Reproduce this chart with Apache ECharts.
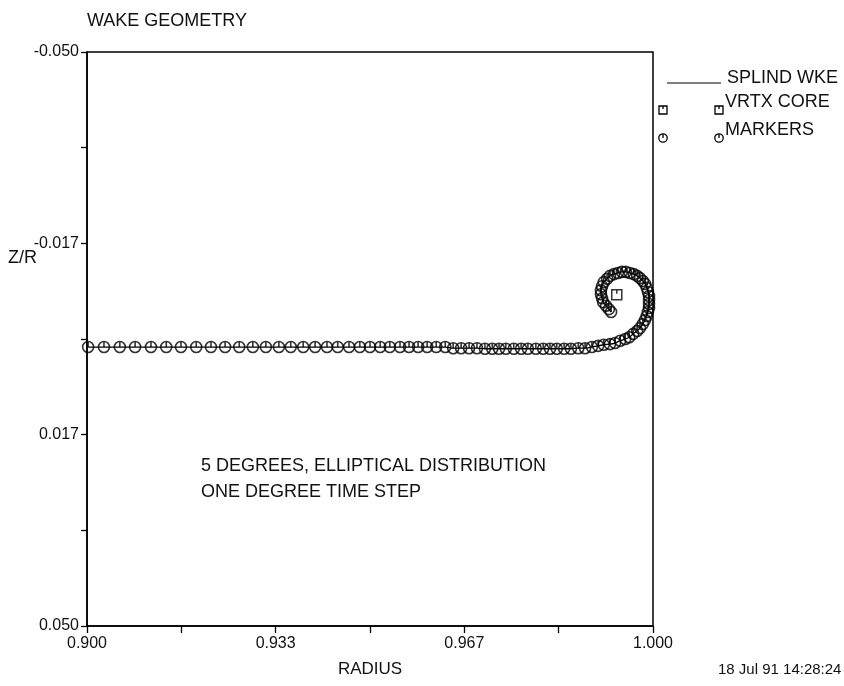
<!DOCTYPE html>
<html>
<head>
<meta charset="utf-8">
<script src="https://cdn.jsdelivr.net/npm/echarts@6/dist/echarts.min.js"></script>
<style>
  html, body { margin: 0; padding: 0; background: #fff; }
  #chart { width: 844px; height: 686px; }
</style>
</head>
<body>
<div id="chart"></div>
<script>
// Wake sheet marker positions: radius (r/R) and vertical offset (Z/R)
const wakeRadius = [
  0.9002, 0.9030, 0.9058, 0.9085, 0.9113, 0.9140, 0.9166, 0.9193, 0.9219, 0.9244,
  0.9269, 0.9293, 0.9316, 0.9339, 0.9360, 0.9382, 0.9403, 0.9424, 0.9443, 0.9463,
  0.9482, 0.9500, 0.9518, 0.9535, 0.9553, 0.9569, 0.9585, 0.9601, 0.9617, 0.9633,
  0.9647, 0.9661, 0.9675, 0.9689, 0.9703, 0.9716, 0.9728, 0.9740, 0.9754, 0.9767,
  0.9779, 0.9793, 0.9806, 0.9818, 0.9830, 0.9843, 0.9855, 0.9868, 0.9880, 0.9892,
  0.9903, 0.9913, 0.9924, 0.9933, 0.9942, 0.9951, 0.9958, 0.9965, 0.9972, 0.9977,
  0.9982, 0.9986, 0.9989, 0.9991, 0.9993, 0.9993, 0.9993, 0.9993, 0.9991, 0.9989,
  0.9986, 0.9982, 0.9977, 0.9972, 0.9966, 0.9959, 0.9952, 0.9945, 0.9938, 0.9931,
  0.9924, 0.9919, 0.9913, 0.9910, 0.9908, 0.9908, 0.9910, 0.9912, 0.9917, 0.9922,
  0.9926
];
const wakeZ = [
  0.0014, 0.0014, 0.0014, 0.0014, 0.0014, 0.0014, 0.0014, 0.0014, 0.0014, 0.0014,
  0.0014, 0.0014, 0.0014, 0.0014, 0.0014, 0.0014, 0.0014, 0.0014, 0.0014, 0.0014,
  0.0014, 0.0014, 0.0014, 0.0014, 0.0014, 0.0014, 0.0014, 0.0014, 0.0014, 0.0014,
  0.0016, 0.0016, 0.0016, 0.0016, 0.0017, 0.0017, 0.0017, 0.0017, 0.0017, 0.0017,
  0.0017, 0.0017, 0.0017, 0.0017, 0.0017, 0.0017, 0.0017, 0.0016, 0.0016, 0.0014,
  0.0012, 0.0010, 0.0009, 0.0007, 0.0003, 0.0000, -0.0003, -0.0009, -0.0014, -0.0019,
  -0.0026, -0.0033, -0.0040, -0.0047, -0.0054, -0.0061, -0.0068, -0.0075, -0.0082, -0.0089,
  -0.0096, -0.0101, -0.0106, -0.0110, -0.0113, -0.0115, -0.0117, -0.0117, -0.0115, -0.0113,
  -0.0110, -0.0105, -0.0099, -0.0092, -0.0085, -0.0078, -0.0071, -0.0064, -0.0058, -0.0052,
  -0.0047
];

// Vortex core centroid
const coreRadius = [0.9936];
const coreZ = [-0.0077];

// Axis ticks and labelled values
const xTicks = [0.9, 0.91667, 0.93333, 0.95, 0.96667, 0.98333, 1.0];
const xLabels = [0.9, 0.93333, 0.96667, 1.0];
const yTicks = [-0.05, -0.03333, -0.01667, 0, 0.01667, 0.03333, 0.05];
const yLabels = [-0.05, -0.01667, 0.01667, 0.05];

const FONT = 'Liberation Sans, Arial, sans-serif';
const INK = '#111';

const wakePoints = wakeRadius.map((r, i) => [r, wakeZ[i]]);
const corePoints = coreRadius.map((r, i) => [r, coreZ[i]]);

// circle with a short stroke from the top to the centre
const markerPath = 'path://M0,-5A5,5 0 1 1 0,5A5,5 0 1 1 0,-5ZM0,-5L0,0';
// square with a short stroke dropping from the top edge
const corePath = 'path://M-5,-5L5,-5L5,5L-5,5ZM0,-5L0,-1';

const tickStyle = { color: '#000', width: 1.3 };

const chart = echarts.init(document.getElementById('chart'), null, { renderer: 'canvas' });

chart.setOption({
  backgroundColor: '#fff',
  animation: false,
  textStyle: { fontFamily: FONT, color: INK },
  title: {
    text: 'WAKE GEOMETRY',
    left: 82,
    top: 7,
    textStyle: { fontFamily: FONT, fontSize: 18, fontWeight: 'normal', color: INK }
  },
  grid: {
    left: 87, right: 191, top: 52, bottom: 60,
    show: true, borderColor: '#000', borderWidth: 1.5,
    containLabel: false
  },
  xAxis: [
    {
      // frame line and labels
      type: 'value',
      min: 0.9, max: 1.0,
      name: 'RADIUS',
      nameLocation: 'middle',
      nameGap: 35,
      nameTextStyle: { fontFamily: FONT, fontSize: 17, color: INK },
      axisLine: { show: true, onZero: false, lineStyle: { color: '#000', width: 1.5 } },
      axisTick: { show: false },
      axisLabel: {
        customValues: xLabels, margin: 10, fontFamily: FONT, fontSize: 16, color: INK,
        formatter: v => v.toFixed(3)
      },
      splitLine: { show: false }
    },
    {
      // tick marks only
      type: 'value',
      position: 'bottom',
      min: 0.9, max: 1.0,
      axisLine: { show: false, onZero: false },
      axisTick: { show: true, inside: false, length: 7, customValues: xTicks, lineStyle: tickStyle },
      axisLabel: { show: false },
      splitLine: { show: false }
    }
  ],
  yAxis: [
    {
      type: 'value',
      inverse: true,
      min: -0.05, max: 0.05,
      axisLine: { show: true, onZero: false, lineStyle: { color: '#000', width: 1.5 } },
      axisTick: { show: false },
      axisLabel: {
        customValues: yLabels, margin: 8, fontFamily: FONT, fontSize: 16, color: INK,
        formatter: v => v.toFixed(3)
      },
      splitLine: { show: false }
    },
    {
      type: 'value',
      position: 'left',
      inverse: true,
      min: -0.05, max: 0.05,
      axisLine: { show: false, onZero: false },
      axisTick: { show: true, inside: false, length: 6, customValues: yTicks, lineStyle: tickStyle },
      axisLabel: { show: false },
      splitLine: { show: false }
    }
  ],
  series: [
    {
      name: 'SPLIND WKE',
      type: 'line',
      data: wakePoints,
      showSymbol: false,
      smooth: 0.2,
      lineStyle: { color: '#000', width: 1.3 },
      z: 2
    },
    {
      name: 'MARKERS',
      type: 'scatter',
      data: wakePoints,
      symbol: markerPath,
      symbolSize: 11,
      itemStyle: { color: 'rgba(255,255,255,0)', borderColor: '#000', borderWidth: 1.6 },
      z: 3
    },
    {
      name: 'VRTX CORE',
      type: 'scatter',
      data: corePoints,
      symbol: corePath,
      symbolSize: 10,
      itemStyle: { color: '#fff', borderColor: '#000', borderWidth: 1.5 },
      z: 4
    }
  ],
  graphic: [
    // axis caption
    { type: 'text', left: 8, top: 249, style: { text: 'Z/R', font: '18px ' + FONT, fill: INK } },
    // run description
    { type: 'text', left: 201, top: 457, style: { text: '5 DEGREES, ELLIPTICAL DISTRIBUTION', font: '18px ' + FONT, fill: INK } },
    { type: 'text', left: 201, top: 483, style: { text: 'ONE DEGREE TIME STEP', font: '18px ' + FONT, fill: INK } },
    // time stamp
    { type: 'text', left: 718, top: 662, style: { text: '18 Jul 91 14:28:24', font: '15px ' + FONT, fill: INK } },
    // key
    { type: 'line', shape: { x1: 667, y1: 83, x2: 721, y2: 83 }, style: { stroke: '#000', lineWidth: 1.2 } },
    { type: 'text', left: 727, top: 69, style: { text: 'SPLIND WKE', font: '18px ' + FONT, fill: INK } },
    { type: 'rect', shape: { x: 659, y: 106, width: 8, height: 8 }, style: { fill: '#fff', stroke: '#000', lineWidth: 1.3 } },
    { type: 'line', shape: { x1: 663, y1: 106, x2: 663, y2: 109 }, style: { stroke: '#000', lineWidth: 1.3 } },
    { type: 'rect', shape: { x: 715, y: 106, width: 8, height: 8 }, style: { fill: '#fff', stroke: '#000', lineWidth: 1.3 } },
    { type: 'line', shape: { x1: 719, y1: 106, x2: 719, y2: 109 }, style: { stroke: '#000', lineWidth: 1.3 } },
    { type: 'text', left: 725, top: 93, style: { text: 'VRTX CORE', font: '18px ' + FONT, fill: INK } },
    { type: 'circle', shape: { cx: 663, cy: 138, r: 4.2 }, style: { fill: '#fff', stroke: '#000', lineWidth: 1.3 } },
    { type: 'line', shape: { x1: 663, y1: 134, x2: 663, y2: 138 }, style: { stroke: '#000', lineWidth: 1.3 } },
    { type: 'circle', shape: { cx: 719, cy: 138, r: 4.2 }, style: { fill: '#fff', stroke: '#000', lineWidth: 1.3 } },
    { type: 'line', shape: { x1: 719, y1: 134, x2: 719, y2: 138 }, style: { stroke: '#000', lineWidth: 1.3 } },
    { type: 'text', left: 725, top: 121, style: { text: 'MARKERS', font: '18px ' + FONT, fill: INK } }
  ]
});
</script>
</body>
</html>
